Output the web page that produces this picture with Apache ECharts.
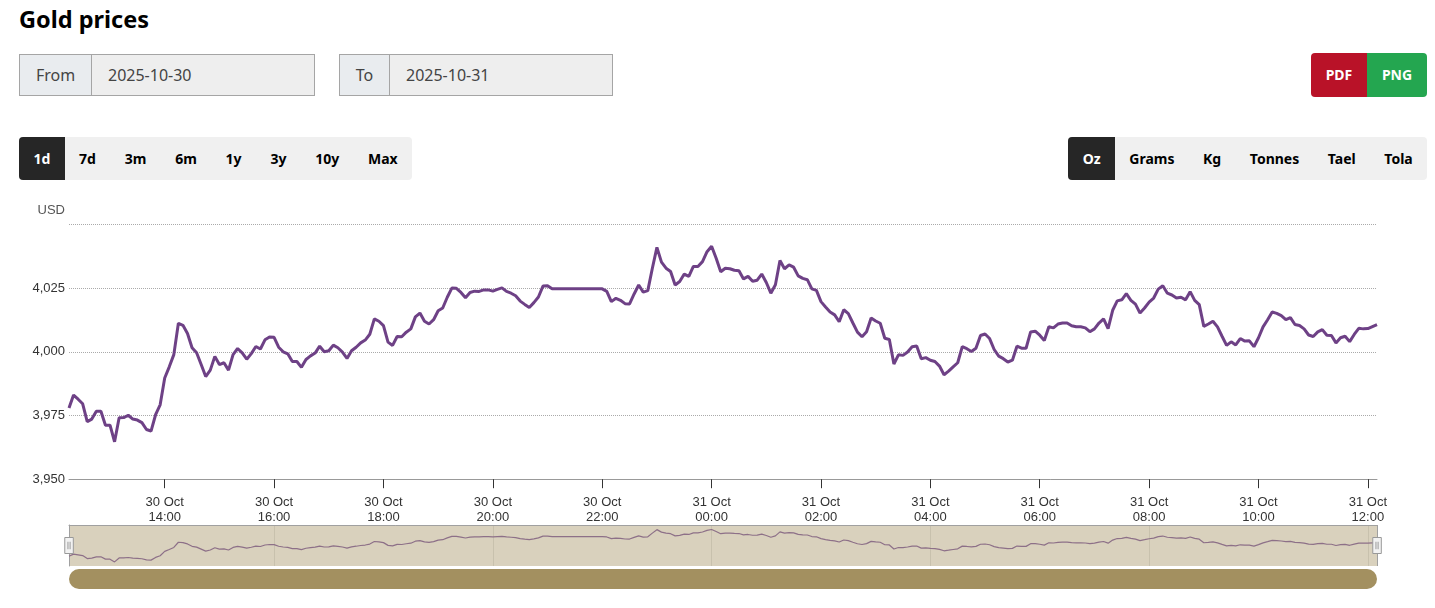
<!DOCTYPE html>
<html>
<head>
<meta charset="utf-8">
<title>Gold prices</title>
<script src="https://cdn.jsdelivr.net/npm/echarts@6/dist/echarts.min.js"></script>
<style>
  html, body { margin: 0; padding: 0; background: #fff; }
  body { width: 1435px; height: 608px; position: relative; overflow: hidden; font-family: "Noto Sans", sans-serif; color: #000; }
  h1 { position: absolute; left: 19px; top: 3px; margin: 0; font-size: 23.5px; line-height: 33px; font-weight: 700; }
  .date { position: absolute; top: 54px; height: 40px; display: flex; border: 1px solid #a5a5a5; font-size: 16px; line-height: 40px; color: #444; }
  .date span { background: #e9ecef; border-right: 1px solid #a5a5a5; text-align: center; }
  .date div { background: #eee; padding-left: 16px; flex: 1; }
  .export { position: absolute; left: 1311px; top: 53px; display: flex; height: 44px; border-radius: 4px; overflow: hidden; color: #fff; font-size: 14px; font-weight: 700; line-height: 44px; text-align: center; }
  .export .pdf { width: 56px; background: #b91228; }
  .export .png { width: 60px; background: #24a650; }
  .tabs { position: absolute; top: 137px; height: 43px; display: flex; background: #f0f0f0; border-radius: 4px; overflow: hidden; font-size: 14px; font-weight: 700; line-height: 43px; }
  .tabs div { padding: 0 14.4px; }
  #units div { padding: 0 14.3px; }
  .tabs .active { background: #262626; color: #fff; }
  #chart { position: absolute; left: 0; top: 190px; width: 1435px; height: 418px; }
</style>
</head>
<body>
<h1>Gold prices</h1>
<div class="date" style="left:19px;width:294px"><span style="width:71px">From</span><div>2025-10-30</div></div>
<div class="date" style="left:339px;width:272px"><span style="width:49px">To</span><div>2025-10-31</div></div>
<div class="export"><div class="pdf">PDF</div><div class="png">PNG</div></div>
<div class="tabs" id="ranges" style="left:19px"></div>
<div class="tabs" id="units" style="right:8px"></div>
<div id="chart"></div>
<script>
var ranges = ["1d", "7d", "3m", "6m", "1y", "3y", "10y", "Max"];
var units = ["Oz", "Grams", "Kg", "Tonnes", "Tael", "Tola"];

// USD per oz, one reading every 5 minutes from 30 Oct 12:15
var prices = [
  3977.9, 3983.0, 3981.4, 3979.6, 3972.6, 3973.6, 3976.7, 3976.7, 3971.2, 3971.2,
  3964.7, 3974.1, 3974.2, 3975.1, 3973.6, 3973.2, 3972.2, 3969.5, 3968.9, 3975.3,
  3979.2, 3989.7, 3994.1, 3998.9, 4011.2, 4010.4, 4007.2, 4001.6, 3999.6, 3995.0,
  3990.3, 3992.8, 3998.2, 3995.0, 3995.7, 3992.8, 3998.9, 4001.3, 3999.6, 3997.1,
  3999.3, 4002.1, 4001.1, 4004.7, 4005.8, 4005.7, 4001.8, 4000.0, 3999.2, 3996.2,
  3996.2, 3993.9, 3997.0, 3998.4, 3999.5, 4002.2, 4000.0, 4000.4, 4002.6, 4001.6,
  3999.9, 3997.4, 4000.4, 4001.8, 4003.5, 4004.6, 4006.9, 4012.9, 4012.0, 4010.3,
  4003.8, 4002.5, 4006.0, 4005.9, 4007.7, 4009.0, 4013.7, 4015.2, 4012.0, 4010.9,
  4012.6, 4016.1, 4017.2, 4021.4, 4025.0, 4024.9, 4023.3, 4021.2, 4023.3, 4023.8,
  4023.7, 4024.3, 4024.3, 4023.8, 4024.5, 4025.1, 4023.7, 4023.0, 4022.0, 4019.9,
  4018.6, 4017.4, 4019.3, 4021.5, 4025.8, 4025.9, 4024.7, 4024.7, 4024.7, 4024.7,
  4024.7, 4024.7, 4024.7, 4024.7, 4024.7, 4024.7, 4024.7, 4024.7, 4023.7, 4019.7,
  4021.0, 4020.2, 4018.9, 4018.8, 4022.7, 4026.2, 4023.4, 4024.0, 4032.8, 4041.0,
  4035.2, 4032.8, 4031.5, 4026.2, 4027.6, 4030.5, 4029.6, 4033.5, 4033.5, 4035.4,
  4039.3, 4041.4, 4036.7, 4031.4, 4032.8, 4032.6, 4032.0, 4031.8, 4028.6, 4029.6,
  4027.7, 4028.1, 4030.5, 4027.2, 4023.0, 4026.3, 4035.8, 4032.6, 4034.1, 4033.2,
  4029.8, 4028.8, 4028.3, 4024.7, 4024.1, 4019.7, 4017.6, 4015.6, 4014.5, 4011.8,
  4016.5, 4015.0, 4011.3, 4007.7, 4005.9, 4007.9, 4013.3, 4012.1, 4011.2, 4005.3,
  4004.8, 3995.2, 3998.8, 3998.6, 3999.9, 4002.0, 4002.3, 3997.3, 3997.7, 3996.7,
  3996.2, 3994.4, 3991.0, 3992.4, 3994.1, 3995.7, 4002.0, 4001.2, 4000.1, 4001.4,
  4006.4, 4007.0, 4005.2, 4000.9, 3998.3, 3997.3, 3996.0, 3996.7, 4002.2, 4001.4,
  4001.4, 4007.8, 4008.1, 4006.5, 4004.4, 4009.8, 4009.4, 4010.9, 4011.3, 4011.3,
  4010.2, 4009.8, 4009.8, 4009.4, 4007.9, 4009.0, 4011.3, 4012.9, 4009.1, 4016.3,
  4020.0, 4020.4, 4022.8, 4020.2, 4018.7, 4015.2, 4017.2, 4019.5, 4021.1, 4024.6,
  4025.9, 4023.0, 4022.3, 4021.1, 4021.4, 4020.4, 4023.6, 4020.2, 4018.5, 4010.0,
  4010.9, 4012.0, 4009.8, 4006.1, 4002.5, 4003.9, 4002.7, 4005.2, 4004.2, 4004.3,
  4002.0, 4005.5, 4009.8, 4012.6, 4015.6, 4015.1, 4014.2, 4012.6, 4013.4, 4010.7,
  4010.3, 4009.0, 4006.6, 4006.0, 4007.8, 4008.7, 4006.5, 4006.4, 4003.5, 4005.5,
  4006.1, 4004.0, 4006.8, 4009.2, 4009.0, 4009.1, 4009.9, 4010.7
];

var axisTicks = [
  "2025-10-30T14:00Z", "2025-10-30T16:00Z", "2025-10-30T18:00Z", "2025-10-30T20:00Z",
  "2025-10-30T22:00Z", "2025-10-31T00:00Z", "2025-10-31T02:00Z", "2025-10-31T04:00Z",
  "2025-10-31T06:00Z", "2025-10-31T08:00Z", "2025-10-31T10:00Z", "2025-10-31T12:00Z"
];
var navigatorTicks = [
  "2025-10-30T16:00Z", "2025-10-30T20:00Z", "2025-10-31T00:00Z",
  "2025-10-31T04:00Z", "2025-10-31T08:00Z", "2025-10-31T12:00Z"
];
var startTime = Date.UTC(2025, 9, 30, 12, 15);
var step = 5 * 60 * 1000;

function fillTabs(id, names) {
  var box = document.getElementById(id);
  names.forEach(function (name, i) {
    var tab = document.createElement("div");
    tab.textContent = name;
    if (i === 0) tab.className = "active";
    box.appendChild(tab);
  });
}
fillTabs("ranges", ranges);
fillTabs("units", units);

var seriesData = prices.map(function (v, i) {
  return [startTime + i * step, v];
});
var endTime = startTime + (prices.length - 1) * step;

function toTime(s) {
  return new Date(s).getTime();
}

function timeLabel(value) {
  var d = new Date(value);
  var hour = d.getUTCHours();
  return d.getUTCDate() + " Oct\n" + (hour < 10 ? "0" : "") + hour + ":00";
}

var myChart = echarts.init(document.getElementById("chart"));

// x axes are plain value axes holding timestamps, the time axis breaks on customValues
var options = {
  animation: false,
  textStyle: { fontFamily: "Liberation Sans, Arial, sans-serif" },
  grid: [
    { left: 69, right: 58, top: 34.4, height: 254.8 },
    {
      left: 69, right: 58, top: 335, height: 41,
      show: true, backgroundColor: "#d9d1bd", borderWidth: 0
    }
  ],
  xAxis: [
    {
      type: "value",
      gridIndex: 0,
      min: startTime,
      max: endTime,
      axisLine: { lineStyle: { color: "#999", width: 1 } },
      axisTick: { length: 9, lineStyle: { color: "#333" }, customValues: axisTicks.map(toTime) },
      axisLabel: {
        customValues: axisTicks.map(toTime),
        formatter: timeLabel,
        hideOverlap: false,
        color: "#333",
        fontSize: 13,
        lineHeight: 15,
        margin: 16
      },
      splitLine: { show: false }
    },
    {
      type: "value",
      gridIndex: 1,
      position: "top",
      min: startTime,
      max: endTime,
      axisLine: { show: true, onZero: false, lineStyle: { color: "#a0a0a0", width: 1 } },
      axisTick: { show: false, customValues: navigatorTicks.map(toTime) },
      axisLabel: { show: false, customValues: navigatorTicks.map(toTime) },
      splitLine: { show: true, lineStyle: { color: "#c8c1ad", width: 1 } }
    }
  ],
  yAxis: [
    {
      type: "value",
      gridIndex: 0,
      min: 3950,
      max: 4050,
      interval: 25,
      name: "USD",
      nameLocation: "end",
      nameGap: 7,
      nameTextStyle: { color: "#555", fontSize: 13, align: "right", padding: [0, 4, 0, 0] },
      axisLine: { show: false },
      axisTick: { show: false },
      axisLabel: {
        color: "#333",
        fontSize: 13,
        margin: 4,
        formatter: function (v) {
          return v === 4050 ? "" : v.toLocaleString("en-US");
        }
      },
      splitLine: { lineStyle: { color: "#aaa", type: "dotted", width: 1 } }
    },
    {
      type: "value",
      gridIndex: 1,
      min: 3955,
      max: 4052,
      axisLine: { show: true, onZero: false, lineStyle: { color: "#a0a0a0", width: 1 } },
      axisTick: { show: false },
      axisLabel: { show: false },
      splitLine: { show: false }
    }
  ],
  dataZoom: [
    {
      type: "slider",
      xAxisIndex: [0],
      filterMode: "none",
      left: 67,
      right: 58,
      top: 335,
      height: 41,
      start: 0,
      end: 100,
      showDataShadow: false,
      showDetail: false,
      brushSelect: false,
      backgroundColor: "transparent",
      borderColor: "transparent",
      fillerColor: "transparent",
      moveHandleSize: 0,
      handleIcon: "path://M0,0H8V15H0Z M3,4V11 M5,4V11",
      handleSize: 16,
      handleStyle: { color: "#f2f2f2", borderColor: "#999", borderWidth: 1 }
    }
  ],
  series: [
    {
      name: "Gold",
      type: "line",
      xAxisIndex: 0,
      yAxisIndex: 0,
      data: seriesData,
      showSymbol: false,
      lineStyle: { color: "#6e4186", width: 3 },
      itemStyle: { color: "#6e4186" }
    },
    {
      type: "line",
      xAxisIndex: 1,
      yAxisIndex: 1,
      data: seriesData,
      silent: true,
      showSymbol: false,
      lineStyle: { color: "#8d7088", width: 1.2 }
    }
  ],
  graphic: [
    {
      // scrollbar under the navigator
      type: "rect",
      left: 69,
      top: 379,
      shape: { width: 1308, height: 20, r: 10 },
      style: { fill: "#a39060" }
    },
    {
      // right edge of the navigator
      type: "rect",
      left: 1377,
      top: 335,
      shape: { width: 1, height: 41 },
      style: { fill: "#a0a0a0" }
    }
  ]
};

myChart.setOption(options);
</script>
</body>
</html>
